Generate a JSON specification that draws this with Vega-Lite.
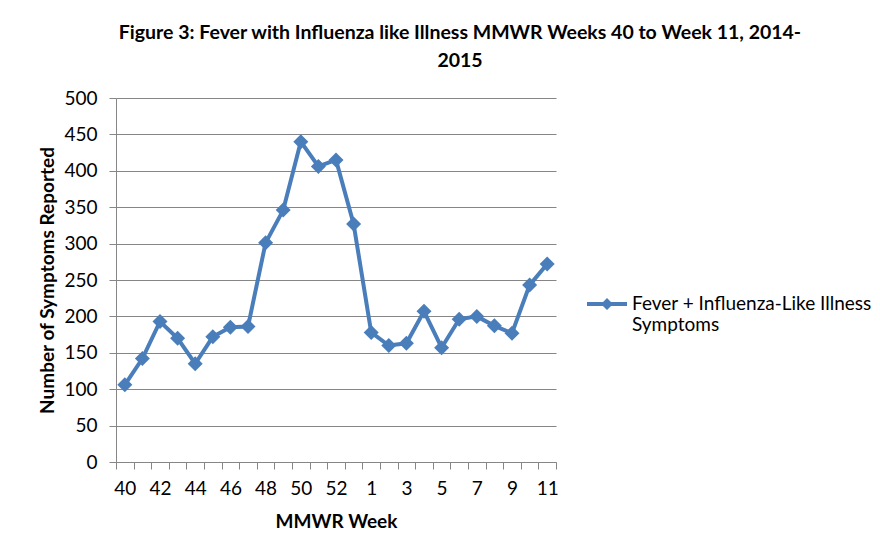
{
  "$schema": "https://vega.github.io/schema/vega-lite/v6.json",
  "autosize": "none",
  "width": 440,
  "height": 364,
  "padding": {"left": 116, "top": 98, "right": 324, "bottom": 91},
  "background": "white",
  "config": {
    "font": "Lato",
    "view": {"stroke": null}
  },
  "title": {
    "text": ["Figure 3: Fever with Influenza like Illness MMWR Weeks 40 to Week 11, 2014-", "2015"],
    "font": "Lato",
    "fontSize": 19.5,
    "fontWeight": "bold",
    "color": "#000000",
    "anchor": "middle",
    "dx": 124,
    "offset": 18,
    "lineHeight": 28
  },
  "data": {
    "values": [
      {"week": "40", "count": 106, "series": "Fever + Influenza-Like Illness Symptoms"},
      {"week": "41", "count": 142, "series": "Fever + Influenza-Like Illness Symptoms"},
      {"week": "42", "count": 193, "series": "Fever + Influenza-Like Illness Symptoms"},
      {"week": "43", "count": 170, "series": "Fever + Influenza-Like Illness Symptoms"},
      {"week": "44", "count": 135, "series": "Fever + Influenza-Like Illness Symptoms"},
      {"week": "45", "count": 172, "series": "Fever + Influenza-Like Illness Symptoms"},
      {"week": "46", "count": 185, "series": "Fever + Influenza-Like Illness Symptoms"},
      {"week": "47", "count": 186, "series": "Fever + Influenza-Like Illness Symptoms"},
      {"week": "48", "count": 301, "series": "Fever + Influenza-Like Illness Symptoms"},
      {"week": "49", "count": 346, "series": "Fever + Influenza-Like Illness Symptoms"},
      {"week": "50", "count": 440, "series": "Fever + Influenza-Like Illness Symptoms"},
      {"week": "51", "count": 406, "series": "Fever + Influenza-Like Illness Symptoms"},
      {"week": "52", "count": 415, "series": "Fever + Influenza-Like Illness Symptoms"},
      {"week": "53", "count": 327, "series": "Fever + Influenza-Like Illness Symptoms"},
      {"week": "1", "count": 178, "series": "Fever + Influenza-Like Illness Symptoms"},
      {"week": "2", "count": 160, "series": "Fever + Influenza-Like Illness Symptoms"},
      {"week": "3", "count": 163, "series": "Fever + Influenza-Like Illness Symptoms"},
      {"week": "4", "count": 207, "series": "Fever + Influenza-Like Illness Symptoms"},
      {"week": "5", "count": 157, "series": "Fever + Influenza-Like Illness Symptoms"},
      {"week": "6", "count": 196, "series": "Fever + Influenza-Like Illness Symptoms"},
      {"week": "7", "count": 200, "series": "Fever + Influenza-Like Illness Symptoms"},
      {"week": "8", "count": 187, "series": "Fever + Influenza-Like Illness Symptoms"},
      {"week": "9", "count": 177, "series": "Fever + Influenza-Like Illness Symptoms"},
      {"week": "10", "count": 243, "series": "Fever + Influenza-Like Illness Symptoms"},
      {"week": "11", "count": 272, "series": "Fever + Influenza-Like Illness Symptoms"}
    ]
  },
  "encoding": {
    "x": {
      "field": "week",
      "type": "ordinal",
      "sort": null,
      "scale": {"paddingInner": 0, "paddingOuter": 0},
      "axis": {
        "title": "MMWR Week",
        "titleFont": "Lato",
        "titleFontSize": 19,
        "titleFontWeight": "bold",
        "titleColor": "#000000",
        "titlePadding": 14,
        "labelAngle": 0,
        "labelFont": "Lato",
        "labelFontSize": 19,
        "labelColor": "#000000",
        "labelPadding": 10,
        "labelExpr": "indexof(['40','42','44','46','48','50','52','1','3','5','7','9','11'], datum.label) >= 0 ? datum.label : ''",
        "tickBand": "extent",
        "tickColor": "#868686",
        "tickSize": 7,
        "domainColor": "#868686",
        "grid": false
      }
    },
    "y": {
      "field": "count",
      "type": "quantitative",
      "scale": {"domain": [0, 500], "nice": false},
      "axis": {
        "title": "Number of Symptoms Reported",
        "titleFont": "Lato",
        "titleFontSize": 19,
        "titleFontWeight": "bold",
        "titleColor": "#000000",
        "titlePadding": 6,
        "values": [0, 50, 100, 150, 200, 250, 300, 350, 400, 450, 500],
        "labelFont": "Lato",
        "labelFontSize": 19,
        "labelColor": "#000000",
        "labelPadding": 12,
        "tickColor": "#868686",
        "tickSize": 7,
        "domainColor": "#868686",
        "gridColor": "#868686",
        "gridWidth": 1
      }
    },
    "color": {
      "field": "series",
      "type": "nominal",
      "scale": {"range": ["#4A7EBB"]},
      "legend": {
        "title": null,
        "orient": "none",
        "legendX": 471,
        "legendY": 186,
        "symbolType": "M-1,-0.1H1V0.1H-1Z M0,-0.3L0.3,0L0,0.3L-0.3,0Z",
        "symbolSize": 1600,
        "symbolStrokeWidth": 0,
        "symbolFillColor": "#4A7EBB",
        "labelFont": "Lato",
        "labelFontSize": 19,
        "labelColor": "#000000",
        "labelExpr": "['Fever + Influenza-Like Illness', 'Symptoms']",
        "labelLimit": 400,
        "labelOffset": 5
      }
    }
  },
  "layer": [
    {
      "mark": {"type": "line", "strokeWidth": 4},
      "encoding": {}
    },
    {
      "mark": {"type": "point", "shape": "diamond", "filled": true, "size": 225, "opacity": 1},
      "encoding": {}
    }
  ]
}
